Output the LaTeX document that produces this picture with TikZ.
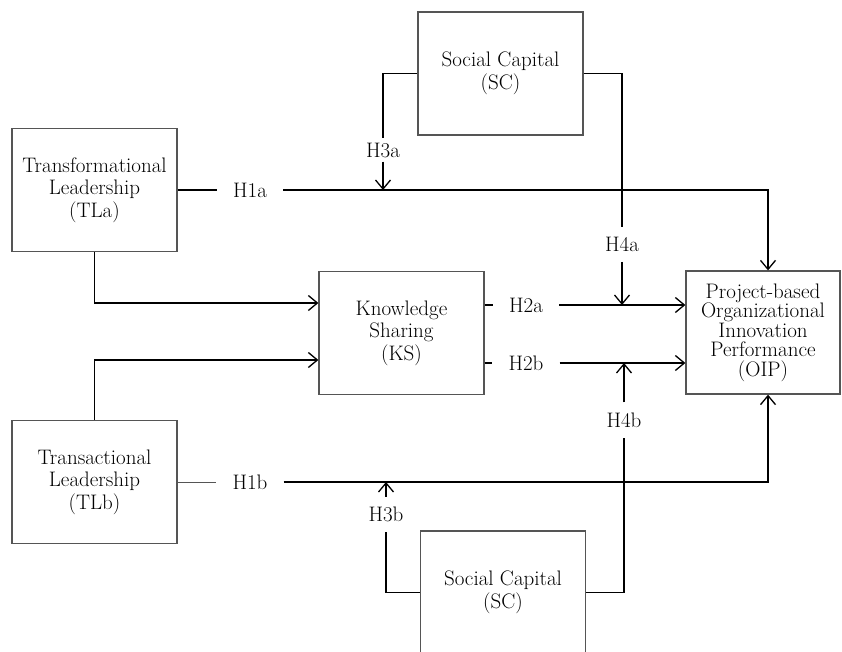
\documentclass[tikz,border=0pt]{standalone}
\usetikzlibrary{arrows.meta}
\definecolor{boxgray}{HTML}{555555}
\definecolor{txt}{HTML}{000000}
\begin{document}
\begin{tikzpicture}[x=1pt,y=-1pt,
  box/.style={draw=boxgray,line width=1.3pt,minimum width=165pt,minimum height=123pt,
    align=center,inner sep=0pt,text=txt,font=\fontsize{21}{22.5}\selectfont},
  hlab/.style={inner xsep=16pt,inner ysep=5pt,text=txt,font=\fontsize{21}{22.5}\selectfont},
  conn/.style={line width=1.3pt,draw=black},
  arr/.style={conn,-{Straight Barb[length=9pt,width=15pt,line width=1.3pt]}}]
\useasboundingbox (0,0) rectangle (842,652);
% boxes
\node[box] (tla) at (94.5,190) {Transformational\\Leadership\\(TLa)};
\node[box] (tlb) at (94.5,482) {Transactional\\Leadership\\(TLb)};
\node[box] (sct) at (500.5,73.5) {Social Capital\\(SC)};
\node[box] (scb) at (503,592.5) {Social Capital\\(SC)};
\node[box] (ks) at (401.5,333) {Knowledge\\Sharing\\(KS)};
\node[box,minimum width=154pt,font=\fontsize{21}{19.5}\selectfont] (oip) at (763,332.5)
  {Project-based\\Organizational\\Innovation\\Performance\\(OIP)};
% labels
\node[hlab] (h1a) at (250,190) {H1a};
\node[hlab] (h1b) at (250,482) {H1b};
\node[hlab] (h2a) at (526,305) {H2a};
\node[hlab] (h2b) at (526,363) {H2b};
\node[hlab,inner ysep=4pt] (h3a) at (383,150) {H3a};
\node[hlab,inner ysep=10pt] (h3b) at (386,514.5) {H3b};
\node[hlab,inner ysep=10pt] (h4a) at (622,244.5) {H4a};
\node[hlab,inner ysep=10pt] (h4b) at (624,420) {H4b};
\coordinate (c1) at (768,190);
\coordinate (c2) at (768,482);
% H1a / H1b
\draw[conn] (tla.east) -- (h1a.west);
\draw[arr] (h1a.east) -- (c1) -- (c1 |- oip.north);
\draw[conn,line width=1pt,draw=boxgray] (tlb.east) -- (h1b.west);
\draw[arr] (h1b.east) -- (c2) -- (c2 |- oip.south);
% leadership -> KS
\draw[arr] (tla.south) |- ([yshift=30pt]ks.west);
\draw[arr] (tlb.north) |- ([yshift=-27pt]ks.west);
% H2a / H2b
\draw[conn] (ks.east |- h2a) -- (h2a.west);
\draw[arr] (h2a.east) -- (oip.west |- h2a);
\draw[conn] (ks.east |- h2b) -- (h2b.west);
\draw[arr] (h2b.east) -- (oip.west |- h2b);
% moderators top
\draw[conn] (sct.west) -| (h3a.north);
\draw[arr] (h3a.south) -- (h3a.south |- c1);
\draw[conn] (sct.east) -| (h4a.north);
\draw[arr] (h4a.south) -- (h4a.south |- h2a);
% moderators bottom
\draw[conn] (scb.west) -| (h3b.south);
\draw[arr] (h3b.north) -- (h3b.north |- c2);
\draw[conn] (scb.east) -| (h4b.south);
\draw[arr] (h4b.north) -- (h4b.north |- h2b);
\end{tikzpicture}
\end{document}
